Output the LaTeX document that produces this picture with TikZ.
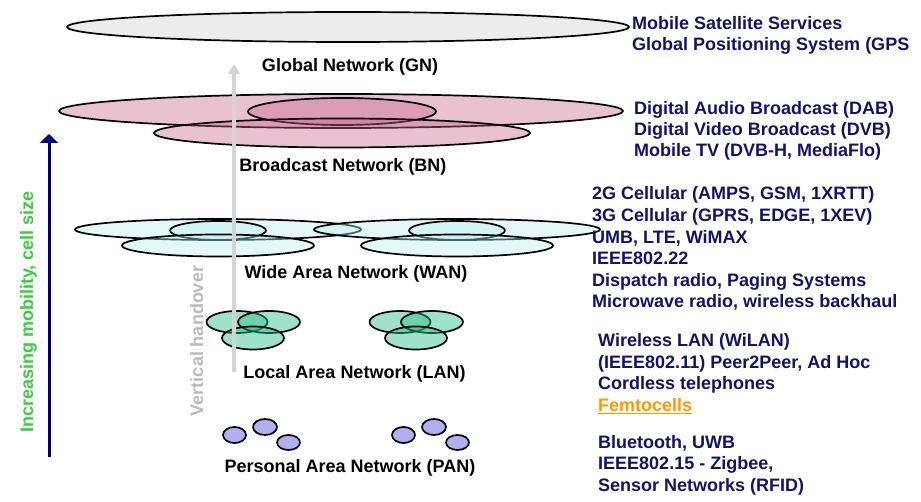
\documentclass[tikz,border=0pt]{standalone}
\usepackage{fontspec}
\setmainfont{Liberation Sans}
\usetikzlibrary{shapes.geometric,arrows.meta}

\definecolor{gnfill}{RGB}{236,236,236}
\definecolor{bnbase}{RGB}{200,100,140}
\definecolor{wanbase}{RGB}{185,240,240}
\definecolor{lanbase}{RGB}{40,190,140}
\definecolor{panfill}{RGB}{176,176,240}
\definecolor{infoblue}{RGB}{18,18,108}
\definecolor{mobarrow}{RGB}{0,0,128}
\definecolor{mobtext}{RGB}{60,205,60}
\definecolor{handgray}{RGB}{212,212,212}
\definecolor{handtext}{RGB}{186,186,186}
\definecolor{femto}{RGB}{255,153,0}

\tikzset{
  cell/.style={ellipse, draw=black, line width=1.7pt, inner sep=0pt, outer sep=0pt},
  gncell/.style={cell, fill=gnfill},
  bncell/.style={cell, fill=bnbase, fill opacity=0.4},
  wancell/.style={cell, fill=wanbase, fill opacity=0.4},
  lancell/.style={cell, fill=lanbase, fill opacity=0.45},
  pancell/.style={cell, fill=panfill},
  txt/.style={font=\bfseries\fontsize{18}{21.5}\selectfont, inner sep=0pt},
  netlabel/.style={txt, anchor=base, text=black},
  info/.style={txt, anchor=base west, text=infoblue},
}

\begin{document}
\begin{tikzpicture}[x=1pt,y=-1pt]
\useasboundingbox (0,0) rectangle (921,502);

% Global network
\node[gncell, minimum width=562pt, minimum height=30pt] (gn) at (348,27) {};

% Broadcast network
\node[bncell, minimum width=564pt, minimum height=34pt] (bn-big) at (341,111) {};
\node[bncell, minimum width=188pt, minimum height=27pt] (bn-mid) at (342,111.5) {};
\node[bncell, minimum width=376pt, minimum height=29pt] (bn-low) at (342,133) {};

% Wide area network: two clusters
\foreach \cx/\n in {218/a,457/b}{
  \node[wancell, minimum width=286pt, minimum height=21pt] (wan-\n-big) at (\cx,229.5) {};
  \node[wancell, minimum width=96pt, minimum height=19pt] (wan-\n-mid) at (\cx,230.5) {};
  \node[wancell, minimum width=192pt, minimum height=22pt] (wan-\n-low) at (\cx,245.5) {};
}

% Local area network: two clusters
\foreach \cx/\n in {0/a,163/b}{
  \node[lancell, minimum width=61pt, minimum height=22pt] (lan-\n-l) at (237+\cx,322) {};
  \node[lancell, minimum width=62pt, minimum height=22pt] (lan-\n-r) at (269+\cx,322) {};
  \node[lancell, minimum width=62pt, minimum height=23pt] (lan-\n-b) at (253+\cx,338) {};
}

% Personal area network: two clusters
\foreach \cx/\n in {0/a,169/b}{
  \node[pancell, minimum width=23pt, minimum height=16pt] (pan-\n-1) at (234.5+\cx,435) {};
  \node[pancell, minimum width=24pt, minimum height=16pt] (pan-\n-2) at (265+\cx,427) {};
  \node[pancell, minimum width=23pt, minimum height=15pt] (pan-\n-3) at (288.5+\cx,442.5) {};
}

% Network names
\node[netlabel] (gn-name)  at (350,72)    {Global Network (GN)};
\node[netlabel] (bn-name)  at (343,171.5) {Broadcast Network (BN)};
\node[netlabel] (wan-name) at (356,279)   {Wide Area Network (WAN)};
\node[netlabel] (lan-name) at (354.5,379) {Local Area Network (LAN)};
\node[netlabel] (pan-name) at (350,472)   {Personal Area Network (PAN)};

% Vertical handover arrow
\coordinate (vh-start) at (234,372);
\coordinate (vh-end) at (234,64);
\draw[handgray, line width=4pt, -{Triangle[width=12pt,length=10pt]}] (vh-start) -- (vh-end);
\node[txt, text=handtext, rotate=90, anchor=base] (vh-text) at (203,341) {Vertical handover};

% Mobility arrow
\coordinate (mob-start) at (49,457);
\coordinate (mob-end) at (49,134);
\draw[mobarrow, line width=3pt, -{Triangle[width=18pt,length=9pt]}] (mob-start) -- (mob-end);
\node[txt, text=mobtext, rotate=90, anchor=base] (mob-text) at (33,312) {Increasing mobility, cell size};

% Technologies per network tier
\node[info] (gn-i1) at (632,30) {Mobile Satellite Services};
\node[info] (gn-i2) at (632,51) {Global Positioning System (GPS};

\node[info] (bn-i1) at (634,115) {Digital Audio Broadcast (DAB)};
\node[info] (bn-i2) at (634,136) {Digital Video Broadcast (DVB)};
\node[info] (bn-i3) at (634,157) {Mobile TV (DVB-H, MediaFlo)};

\node[info] (wan-i1) at (592,200)   {2G Cellular (AMPS, GSM, 1XRTT)};
\node[info] (wan-i2) at (592,221.6) {3G Cellular (GPRS, EDGE, 1XEV)};
\node[info] (wan-i3) at (592,243.2) {UMB, LTE, WiMAX};
\node[info] (wan-i4) at (592,264.8) {IEEE802.22};
\node[info] (wan-i5) at (592,286.4) {Dispatch radio, Paging Systems};
\node[info] (wan-i6) at (592,308)   {Microwave radio, wireless backhaul};

\node[info] (lan-i1) at (598,347)   {Wireless LAN (WiLAN)};
\node[info] (lan-i2) at (598,368.3) {(IEEE802.11) Peer2Peer, Ad Hoc};
\node[info] (lan-i3) at (598,389.6) {Cordless telephones};
\node[info, text=femto] (lan-i4) at (598,411) {Femtocells};
\draw[femto, line width=1.2pt] ([yshift=-2.5pt]lan-i4.base west) -- ([yshift=-2.5pt]lan-i4.base east);

\node[info] (pan-i1) at (598,448)   {Bluetooth, UWB};
\node[info] (pan-i2) at (598,469.5) {IEEE802.15 - Zigbee,};
\node[info] (pan-i3) at (598,491)   {Sensor Networks (RFID)};
\end{tikzpicture}
\end{document}
